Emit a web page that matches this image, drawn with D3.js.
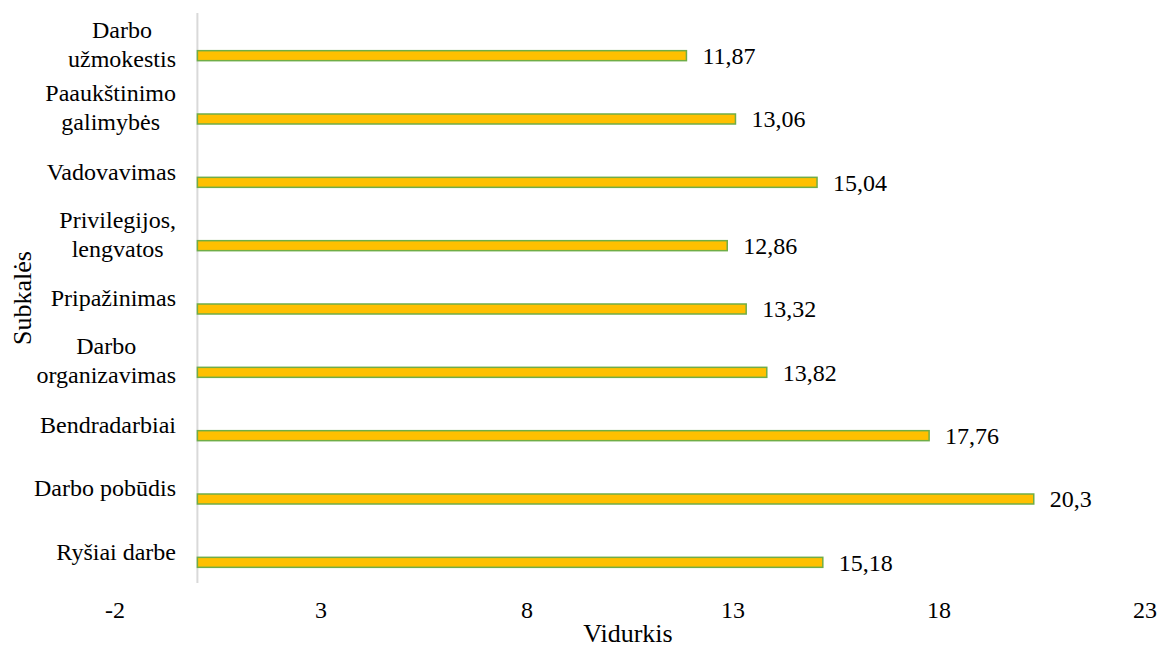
<!DOCTYPE html>
<html>
<head>
<meta charset="utf-8">
<script src="https://cdn.jsdelivr.net/npm/d3@7"></script>
<style>
  body { margin: 0; background: #fff; }
</style>
</head>
<body>
<svg id="chart" width="1158" height="647"></svg>
<script>
// categories top to bottom, lines split as in the original labels
const categories = [
  ["Darbo", "užmokestis"],
  ["Paaukštinimo", "galimybės"],
  ["Vadovavimas"],
  ["Privilegijos,", "lengvatos"],
  ["Pripažinimas"],
  ["Darbo", "organizavimas"],
  ["Bendradarbiai"],
  ["Darbo pobūdis"],
  ["Ryšiai darbe"]
];
const values = [11.87, 13.06, 15.04, 12.86, 13.32, 13.82, 17.76, 20.3, 15.18];
const xTicks = [-2, 3, 8, 13, 18, 23];

const svg = d3.select("#chart");
const fontSize = 24;
const titleSize = 26;
const font = "'Liberation Serif'";

const x = d3.scaleLinear().domain([-2, 23]).range([115, 1145]);
const y = d3.scaleBand().domain(d3.range(categories.length)).range([13, 583]);

const fmt = v => String(v).replace(".", ",");

// helper so every label gets the same font
function label(sel, size) {
  return sel.style("font-family", font).style("font-size", (size || fontSize) + "px").attr("fill", "#000");
}

// vertical axis line at zero
svg.append("line")
  .attr("x1", x(0)).attr("x2", x(0))
  .attr("y1", 13).attr("y2", 583)
  .attr("stroke", "#d9d9d9").attr("stroke-width", 2);

// bars (excel offsets them a bit below the band centre)
const barH = 10;
const barOff = 11;
svg.selectAll(".bar")
  .data(values)
  .enter().append("rect")
  .attr("class", "bar")
  .attr("x", x(0))
  .attr("y", (d, i) => y(i) + y.bandwidth() / 2 + barOff - barH / 2)
  .attr("width", d => x(d) - x(0))
  .attr("height", barH)
  .attr("fill", "#ffc000")
  .attr("stroke", "#70ad47")
  .attr("stroke-width", 1.5);

// value labels
svg.selectAll(".val")
  .data(values)
  .enter().append("text")
  .attr("class", "val")
  .attr("x", d => x(d) + 16)
  .attr("y", (d, i) => y(i) + y.bandwidth() / 2 + barOff)
  .attr("dy", "0.35em")
  .call(label)
  .text(fmt);

// category labels: block right aligned, lines centred within block
const lineH = 29;
categories.forEach((lines, i) => {
  const g = svg.append("g");
  const cy = y(i) + y.bandwidth() / 2 - (lines.length > 1 ? 1 : 0);
  const texts = lines.map((s, j) => g.append("text")
    .attr("y", cy + (j - (lines.length - 1) / 2) * lineH)
    .attr("dy", "0.35em")
    .call(label)
    .text(s));
  const maxW = d3.max(texts, t => t.node().getComputedTextLength());
  texts.forEach(t => t.attr("x", 176 - maxW / 2).attr("text-anchor", "middle"));
});

// x tick labels
svg.selectAll(".tick")
  .data(xTicks)
  .enter().append("text")
  .attr("class", "tick")
  .attr("x", d => x(d))
  .attr("y", 618)
  .attr("text-anchor", "middle")
  .call(label)
  .text(d => d);

// axis titles
svg.append("text")
  .attr("x", 628).attr("y", 642)
  .attr("text-anchor", "middle")
  .call(label, titleSize)
  .text("Vidurkis");

svg.append("text")
  .attr("transform", "translate(31,298) rotate(-90)")
  .attr("text-anchor", "middle")
  .call(label, titleSize)
  .text("Subkalės");
</script>
</body>
</html>
